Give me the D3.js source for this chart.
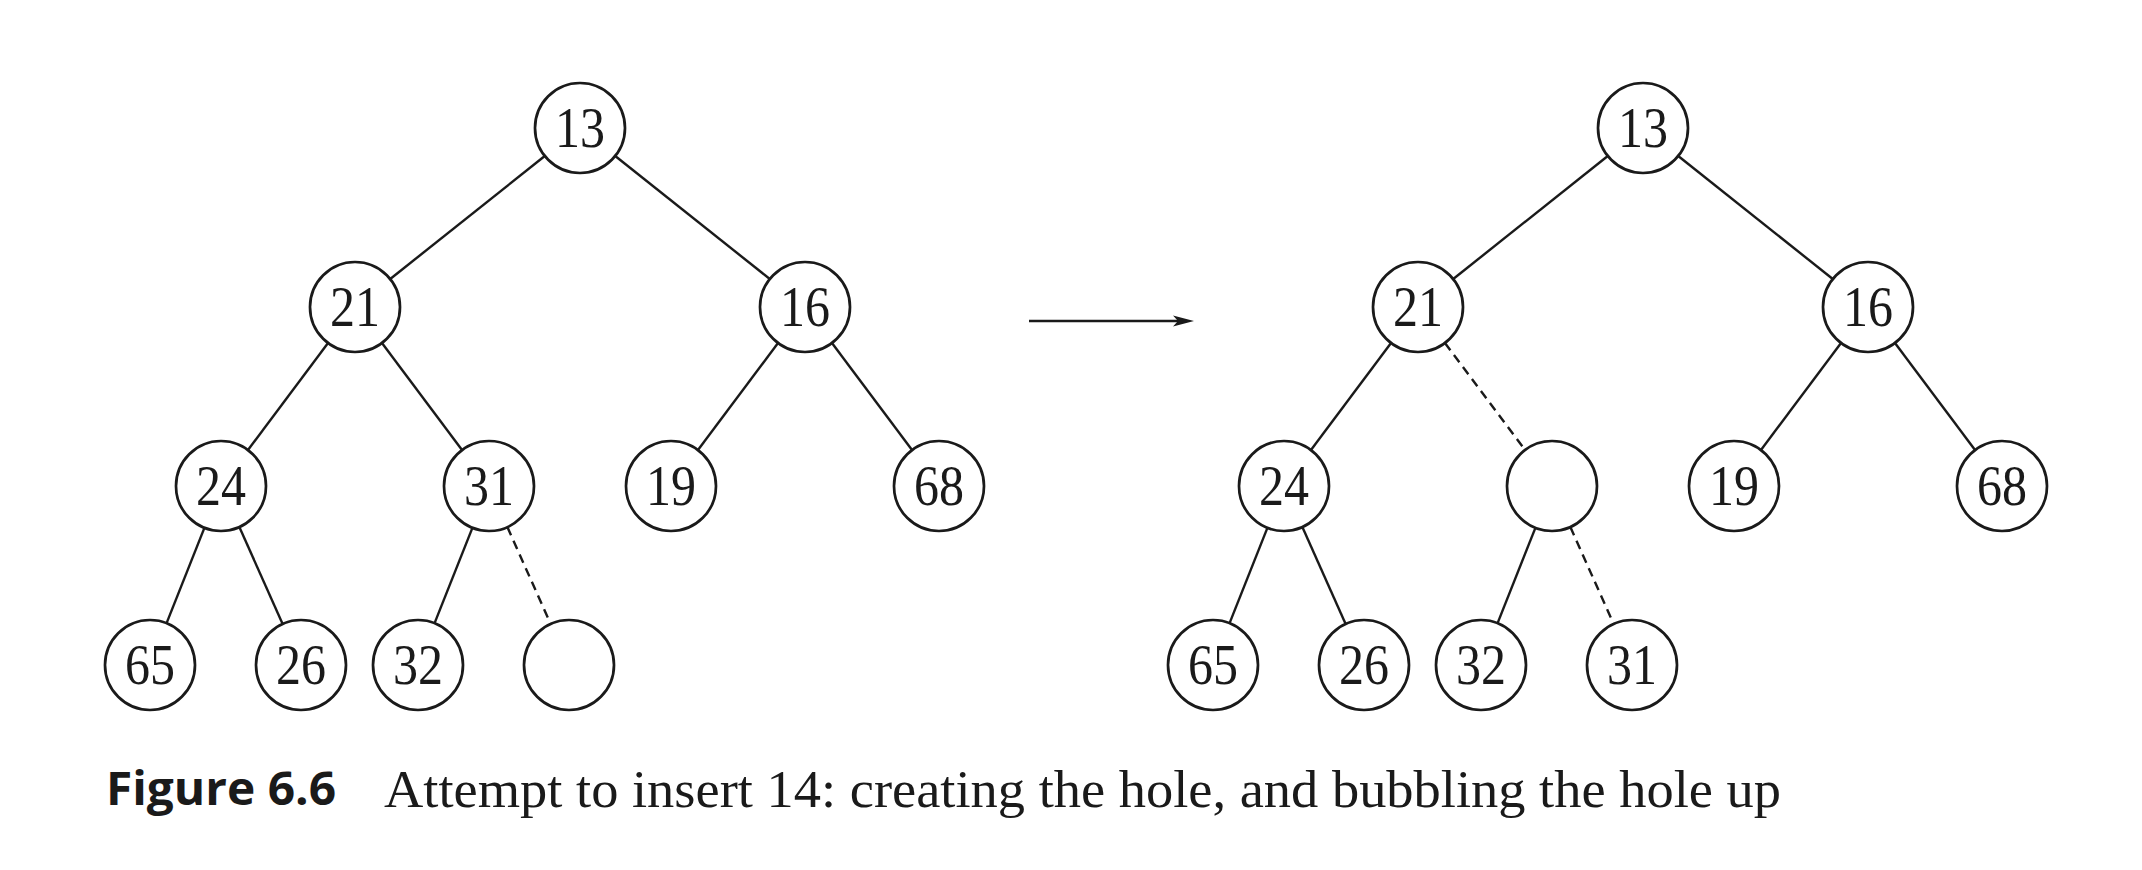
<!DOCTYPE html>
<html>
<head>
<meta charset="utf-8">
<script src="https://cdn.jsdelivr.net/npm/d3@7"></script>
<style>
  html, body { margin: 0; padding: 0; background: #fff; }
  svg { display: block; }
</style>
</head>
<body>
<div id="figure"></div>
<script>
// Heap contents in array order (null = the hole)
const beforeKeys = [13, 21, 16, 24, 31, 19, 68, 65, 26, 32, null];
const afterKeys  = [13, 21, 16, 24, null, 19, 68, 65, 26, 32, 31];
// indices of nodes whose link to the parent is dashed
const beforeDashed = [10];
const afterDashed  = [4, 10];

const captionLabel = "Figure 6.6";
const captionText  = "Attempt to insert 14: creating the hole, and bubbling the hole up";

// Set Dimensions
const width = 2142;
const height = 870;
const radius = 45;
const ink = "#1a1a1a";
// horizontal distance parent -> left / right child, per depth
const spreadLeft  = [225, 134, 71];
const spreadRight = [225, 134, 80];

const svg = d3.select("#figure")
  .append("svg")
  .attr("width", width)
  .attr("height", height);

// depth -> y
const yScale = d3.scaleLinear()
  .domain([0, 3])
  .range([128, 665]);

function depthOf(i){
  return Math.floor(Math.log2(i + 1));
};

// Build node list with x/y positions from heap index
function layoutHeap(keys, rootX){
  const nodes = [];
  keys.forEach(function(k, i){
    const d = depthOf(i);
    let x = rootX;
    if (i > 0) {
      const p = nodes[(i - 1) >> 1];
      x = (i % 2 === 1) ? p.x - spreadLeft[d - 1] : p.x + spreadRight[d - 1];
    }
    nodes.push({ key: k, index: i, depth: d, x: x, y: yScale(d) });
  });
  return nodes;
};

function drawHeap(keys, dashed, rootX){
  const nodes = layoutHeap(keys, rootX);
  const g = svg.append("g");

  const links = nodes.filter(n => n.index > 0).map(function(n){
    const p = nodes[(n.index - 1) >> 1];
    const dx = n.x - p.x, dy = n.y - p.y;
    const len = Math.sqrt(dx * dx + dy * dy);
    const ux = dx / len, uy = dy / len;
    return {
      x1: p.x + ux * radius, y1: p.y + uy * radius,
      x2: n.x - ux * radius, y2: n.y - uy * radius,
      dashed: dashed.indexOf(n.index) >= 0
    };
  });

  g.selectAll("line")
    .data(links).enter()
    .append("line")
    .attr("x1", d => d.x1)
    .attr("y1", d => d.y1)
    .attr("x2", d => d.x2)
    .attr("y2", d => d.y2)
    .attr("stroke", ink)
    .attr("stroke-width", 2.4)
    .attr("stroke-dasharray", d => d.dashed ? "9,6" : null);

  g.selectAll("circle")
    .data(nodes).enter()
    .append("circle")
    .attr("cx", d => d.x)
    .attr("cy", d => d.y)
    .attr("r", radius)
    .attr("fill", "#fff")
    .attr("stroke", ink)
    .attr("stroke-width", 2.7);

  g.selectAll("text")
    .data(nodes.filter(n => n.key !== null)).enter()
    .append("text")
    .attr("x", d => d.x)
    .attr("y", d => d.y + 19)
    .attr("text-anchor", "middle")
    .attr("font-family", "'Liberation Serif', 'DejaVu Serif', serif")
    .attr("font-size", 56)
    .attr("textLength", 50)
    .attr("lengthAdjust", "spacingAndGlyphs")
    .attr("fill", ink)
    .text(d => d.key);
};

drawHeap(beforeKeys, beforeDashed, 580);
drawHeap(afterKeys, afterDashed, 1643);

// Arrow between the two heaps
const arrowY = 321;
svg.append("line")
  .attr("x1", 1029)
  .attr("y1", arrowY)
  .attr("x2", 1186)
  .attr("y2", arrowY)
  .attr("stroke", ink)
  .attr("stroke-width", 2.4);
svg.append("path")
  .attr("d", "M1194," + arrowY + " L1173," + (arrowY - 5.5) + " L1178," + arrowY + " L1173," + (arrowY + 5.5) + " Z")
  .attr("fill", ink);

// Caption
svg.append("text")
  .attr("x", 106)
  .attr("y", 805)
  .attr("font-family", "'Open Sans', 'Noto Sans', sans-serif")
  .attr("font-weight", "bold")
  .attr("font-size", 47)
  .attr("textLength", 230)
  .attr("lengthAdjust", "spacingAndGlyphs")
  .attr("fill", ink)
  .text(captionLabel);

svg.append("text")
  .attr("x", 384)
  .attr("y", 807)
  .attr("font-family", "'Liberation Serif', 'DejaVu Serif', serif")
  .attr("font-size", 53)
  .attr("textLength", 1397)
  .attr("lengthAdjust", "spacingAndGlyphs")
  .attr("fill", ink)
  .text(captionText);
</script>
</body>
</html>
